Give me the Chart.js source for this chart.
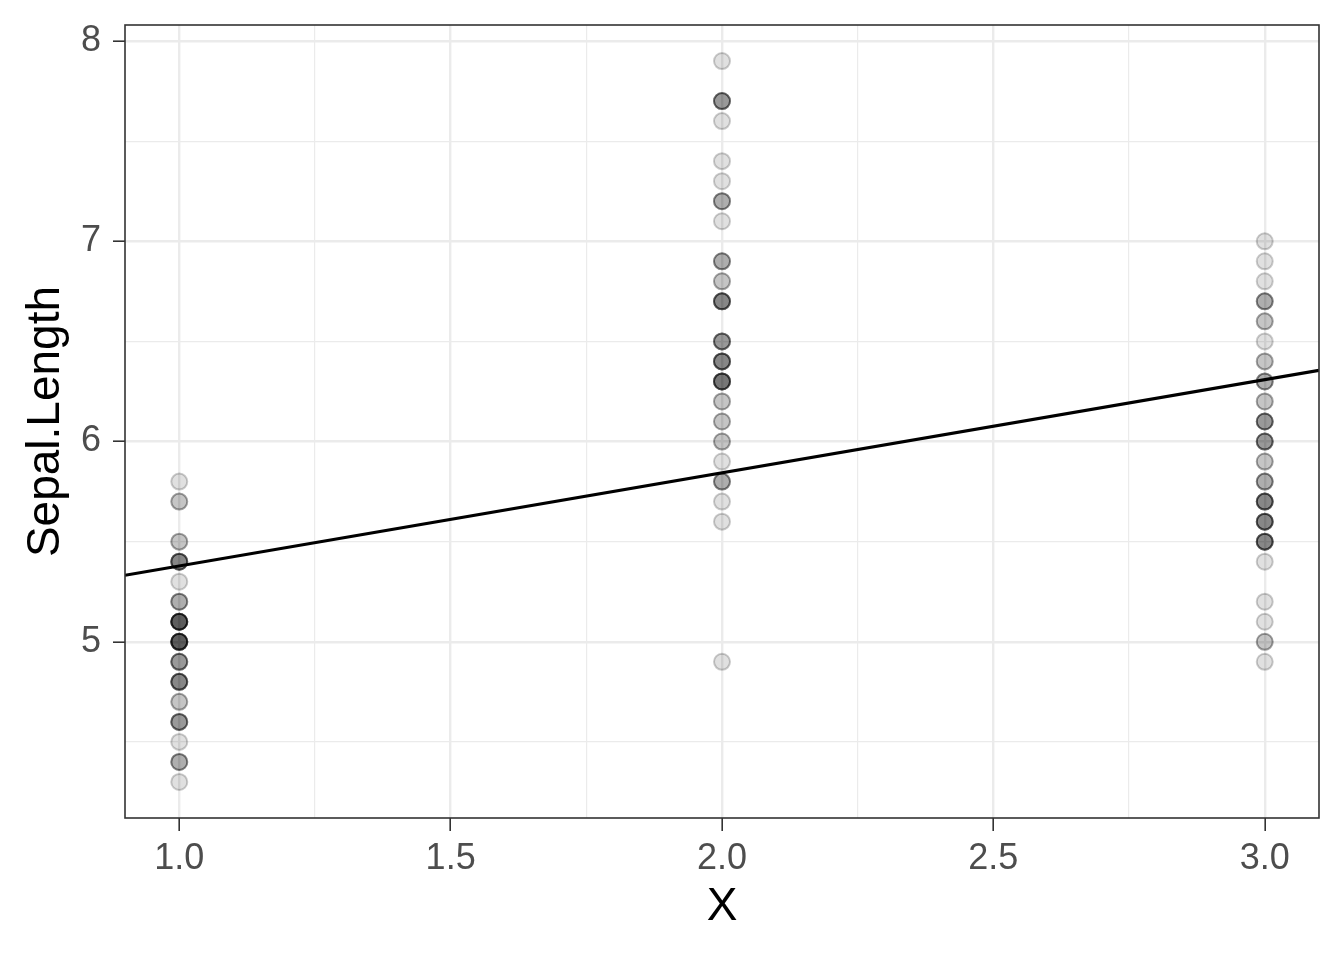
<!DOCTYPE html>
<html>
<head>
<meta charset="utf-8">
<script src="https://cdn.jsdelivr.net/npm/chart.js@4/dist/chart.umd.min.js"></script>
<style>
html,body{margin:0;padding:0;background:#fff;}
#wrap{width:1344px;height:960px;}
</style>
</head>
<body>
<div id="wrap"><canvas id="c" width="1344" height="960"></canvas></div>
<script>
// Categories (x codes)
const xCodes = [1, 2, 3];
// Sepal.Length values for each x code
const valuesX1 = [5.1,4.9,4.7,4.6,5.0,5.4,4.6,5.0,4.4,4.9,5.4,4.8,4.8,4.3,5.8,5.7,5.4,5.1,5.7,5.1,5.4,5.1,4.6,5.1,4.8,5.0,5.0,5.2,5.2,4.7,4.8,5.4,5.2,5.5,4.9,5.0,5.5,4.9,4.4,5.1,5.0,4.5,4.4,5.0,5.1,4.8,5.1,4.6,5.3,5.0];
const valuesX2 = [6.3,5.8,7.1,6.3,6.5,7.6,4.9,7.3,6.7,7.2,6.5,6.4,6.8,5.7,5.8,6.4,6.5,7.7,7.7,6.0,6.9,5.6,7.7,6.3,6.7,7.2,6.2,6.1,6.4,7.2,7.4,7.9,6.4,6.3,6.1,7.7,6.3,6.4,6.0,6.9,6.7,6.9,5.8,6.8,6.7,6.7,6.3,6.5,6.2,5.9];
const valuesX3 = [7.0,6.4,6.9,5.5,6.5,5.7,6.3,4.9,6.6,5.2,5.0,5.9,6.0,6.1,5.6,6.7,5.6,5.8,6.2,5.6,5.9,6.1,6.3,6.1,6.4,6.6,6.8,6.7,6.0,5.7,5.5,5.5,5.8,6.0,5.4,6.0,6.7,6.3,5.6,5.5,5.5,6.1,5.8,5.0,5.6,5.7,5.7,6.2,5.1,5.7];
// Fitted line endpoints
const lineX = [0.9, 3.1];
const lineY = [5.332, 6.355];
// Tick values
const xTicks = [1.0, 1.25, 1.5, 1.75, 2.0, 2.25, 2.5, 2.75, 3.0];
const xTickLabels = ['1.0', '', '1.5', '', '2.0', '', '2.5', '', '3.0'];
const yTicks = [4.5, 5, 5.5, 6, 6.5, 7, 7.5, 8];
const yTickLabels = ['', '5', '', '6', '', '7', '', '8'];

const groups = [valuesX1, valuesX2, valuesX3];
const points = [];
groups.forEach((vals, i) => vals.forEach(v => points.push({x: xCodes[i], y: v})));

const FONT = "'Liberation Sans', Arial, Helvetica, sans-serif";

const isMajor = (arr, labels, v) => {
  const idx = arr.findIndex(t => Math.abs(t - v) < 1e-9);
  return idx >= 0 && labels[idx] !== '';
};

const panelBorder = {
  id: 'panelBorder',
  afterDraw(chart) {
    const {ctx, chartArea: a} = chart;
    ctx.save();
    ctx.strokeStyle = '#333333';
    ctx.lineWidth = 1.6;
    ctx.strokeRect(a.left, a.top, a.right - a.left, a.bottom - a.top);
    ctx.restore();
  }
};

new Chart(document.getElementById('c'), {
  type: 'scatter',
  data: {
    datasets: [
      {
        type: 'line',
        data: lineX.map((x, i) => ({x, y: lineY[i]})),
        borderColor: '#000000',
        borderWidth: 3.2,
        pointRadius: 0,
        fill: false,
        tension: 0
      },
      {
        data: points,
        backgroundColor: 'rgba(0,0,0,0.12)',
        borderColor: 'rgba(0,0,0,0.2)',
        borderWidth: 2,
        pointRadius: 8,
        pointHoverRadius: 8
      }
    ]
  },
  options: {
    responsive: false,
    devicePixelRatio: 1,
    animation: false,
    events: [],
    layout: {padding: {left: 0, top: 25, right: 25, bottom: 0}},
    plugins: {legend: {display: false}, tooltip: {enabled: false}},
    scales: {
      x: {
        type: 'linear',
        min: 0.9, max: 3.1,
        afterBuildTicks: s => { s.ticks = xTicks.map(v => ({value: v})); },
        afterFit: s => { s.height = 142; s.paddingLeft = 0; s.paddingRight = 0; },
        border: {display: false},
        grid: {
          color: '#EBEBEB',
          lineWidth: c => isMajor(xTicks, xTickLabels, c.tick.value) ? 2.4 : 1.2,
          tickColor: c => isMajor(xTicks, xTickLabels, c.tick.value) ? '#333333' : 'rgba(0,0,0,0)',
          tickWidth: 1.6,
          tickLength: 13,
          drawTicks: true
        },
        ticks: {
          autoSkip: false,
          maxRotation: 0,
          padding: 6,
          color: '#4D4D4D',
          font: {family: FONT, size: 36},
          callback: (v) => {
            const i = xTicks.findIndex(t => Math.abs(t - v) < 1e-9);
            return i >= 0 ? xTickLabels[i] : '';
          }
        },
        title: {
          display: true,
          text: 'X',
          color: '#000000',
          font: {family: FONT, size: 46},
          padding: {top: 0, bottom: 25}
        }
      },
      y: {
        type: 'linear',
        min: 4.12, max: 8.08,
        afterBuildTicks: s => { s.ticks = yTicks.map(v => ({value: v})); },
        afterFit: s => { s.width = 125; s.paddingTop = 0; s.paddingBottom = 0; },
        border: {display: false},
        grid: {
          color: '#EBEBEB',
          lineWidth: c => isMajor(yTicks, yTickLabels, c.tick.value) ? 2.4 : 1.2,
          tickColor: c => isMajor(yTicks, yTickLabels, c.tick.value) ? '#333333' : 'rgba(0,0,0,0)',
          tickWidth: 1.6,
          tickLength: 12,
          drawTicks: true
        },
        ticks: {
          autoSkip: false,
          padding: 12,
          color: '#4D4D4D',
          font: {family: FONT, size: 36},
          callback: (v) => {
            const i = yTicks.findIndex(t => Math.abs(t - v) < 1e-9);
            return i >= 0 ? yTickLabels[i] : '';
          }
        },
        title: {
          display: true,
          text: 'Sepal.Length',
          color: '#000000',
          font: {family: FONT, size: 46},
          padding: {top: 19, bottom: 0}
        }
      }
    }
  },
  plugins: [panelBorder]
});
</script>
</body>
</html>
